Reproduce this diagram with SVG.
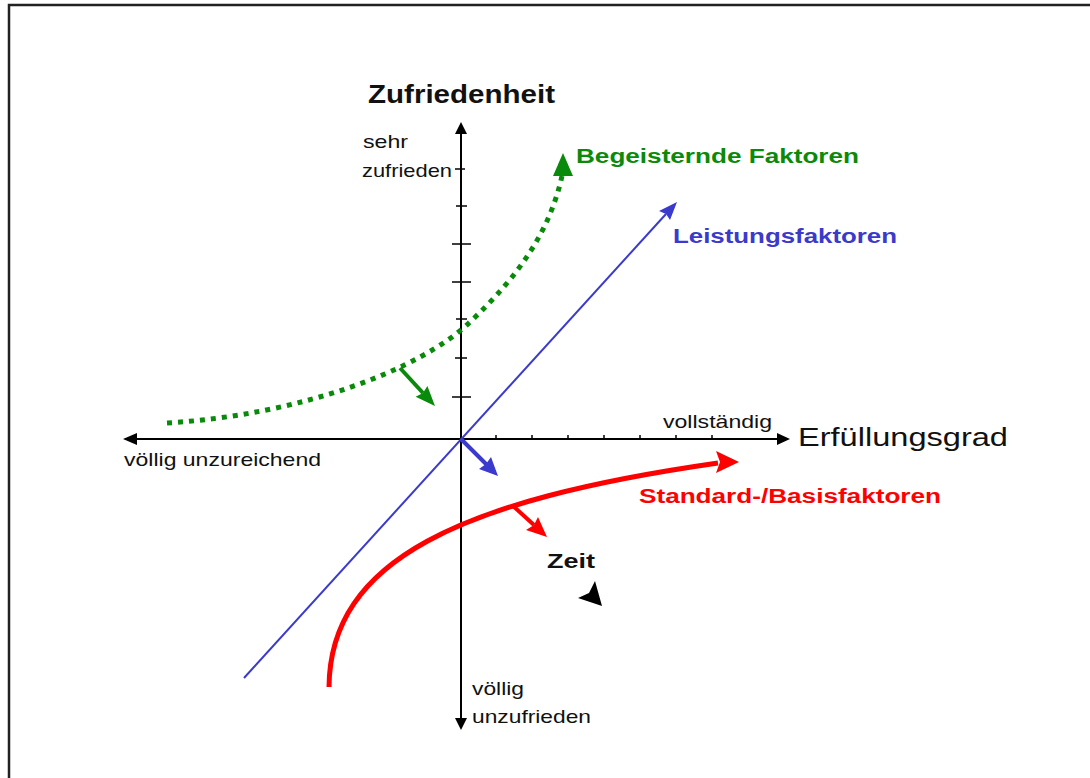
<svg xmlns="http://www.w3.org/2000/svg" width="1090" height="778" viewBox="0 0 1090 778">
<style>
.t{font-family:"Liberation Sans",Arial,sans-serif;fill:#111}
.r{font-size:19px}
.b{font-size:20px;font-weight:bold}
.big{font-size:25px}
.ax{stroke:#000;stroke-width:2;fill:none}
.tk{stroke:#000;stroke-width:1.5}
</style>
<rect width="1090" height="778" fill="#fff"/>
<path d="M9,790 V5 H1100" fill="none" stroke="#222" stroke-width="2.5"/>
<g id="axes">
<line class="ax" x1="461" y1="132" x2="461" y2="720"/>
<line class="ax" x1="135" y1="439" x2="780" y2="439"/>
<polygon points="461,122 455,134 467,134" fill="#000"/>
<polygon points="461,730 455,718 467,718" fill="#000"/>
<polygon points="123,439 137,433 137,445" fill="#000"/>
<polygon points="790,439 777,433 777,445" fill="#000"/>
<g class="tk">
<line x1="455" y1="169" x2="465" y2="169"/>
<line x1="456" y1="206" x2="467" y2="206"/>
<line x1="452" y1="244" x2="471" y2="244"/>
<line x1="452" y1="282" x2="471" y2="282"/>
<line x1="456" y1="319" x2="467" y2="319"/>
<line x1="455" y1="358" x2="467" y2="358"/>
<line x1="452" y1="397" x2="471" y2="397"/>
<line x1="496" y1="435" x2="496" y2="439"/>
<line x1="532" y1="435" x2="532" y2="439"/>
<line x1="568" y1="435" x2="568" y2="439"/>
<line x1="604" y1="435" x2="604" y2="439"/>
<line x1="640" y1="435" x2="640" y2="439"/>
<line x1="676" y1="435" x2="676" y2="439"/>
<line x1="712" y1="435" x2="712" y2="439"/>
</g>
</g>
<g id="connectors">
<g id="leistung-line">
<line x1="244" y1="678" x2="666" y2="214" stroke="#3a3acc" stroke-width="2"/>
<polygon points="677,202 670,220 666,214 659,211" fill="#3a3acc"/>
</g>
<g id="leistung-arrow">
<line x1="461" y1="439" x2="487" y2="465" stroke="#3a3acc" stroke-width="4"/>
<polygon points="498,476 479,469 486,464 491,457" fill="#3a3acc"/>
</g>
<g id="begeistert-curve">
<path d="M167,423 C300,415 420,370 470,322 C520,275 550,230 562,176" fill="none" stroke="#0a8a0a" stroke-width="5" stroke-dasharray="5,6"/>
<polygon points="563,153 553,176 573,176" fill="#0a8a0a"/>
</g>
<g id="begeistert-arrow">
<line x1="400" y1="368" x2="423" y2="393" stroke="#0a8a0a" stroke-width="4"/>
<polygon points="435,406 415.6,396.7 423,393 427.4,385.9" fill="#0a8a0a"/>
</g>
<g id="basis-curve">
<path d="M329,687 C330,560 460,500 718,463" fill="none" stroke="#ff0000" stroke-width="5"/>
<polygon points="739,462 716,451 720,462 716,473" fill="#ff0000"/>
</g>
<g id="basis-arrow">
<line x1="512" y1="505" x2="534" y2="525" stroke="#ff0000" stroke-width="4"/>
<polygon points="547,537 526,530 534,525 538,517" fill="#ff0000"/>
</g>
<g id="zeit-arrow">
<polygon points="602,606 595,581 589,593 578,598" fill="#000"/>
</g>
</g>
<g id="labels">
<text class="t big" x="368" y="103" font-weight="bold" textLength="187" lengthAdjust="spacingAndGlyphs">Zufriedenheit</text>
<text class="t r" x="363" y="148" textLength="45" lengthAdjust="spacingAndGlyphs">sehr</text>
<text class="t r" x="362" y="177" textLength="90" lengthAdjust="spacingAndGlyphs">zufrieden</text>
<text class="t b" x="576" y="163" style="fill:#0a8a0a" textLength="283" lengthAdjust="spacingAndGlyphs">Begeisternde Faktoren</text>
<text class="t b" x="673" y="243" style="fill:#3a3acc" textLength="224" lengthAdjust="spacingAndGlyphs">Leistungsfaktoren</text>
<text class="t r" x="663" y="428" textLength="109" lengthAdjust="spacingAndGlyphs">vollständig</text>
<text class="t big" x="798" y="446" textLength="210" lengthAdjust="spacingAndGlyphs">Erfüllungsgrad</text>
<text class="t r" x="124" y="466" textLength="197" lengthAdjust="spacingAndGlyphs">völlig unzureichend</text>
<text class="t b" x="639" y="503" style="fill:#ff0000" textLength="302" lengthAdjust="spacingAndGlyphs">Standard-/Basisfaktoren</text>
<text class="t b" x="547" y="568" textLength="48" lengthAdjust="spacingAndGlyphs">Zeit</text>
<text class="t r" x="472" y="695" textLength="52" lengthAdjust="spacingAndGlyphs">völlig</text>
<text class="t r" x="472" y="723" textLength="119" lengthAdjust="spacingAndGlyphs">unzufrieden</text>
</g>
</svg>
